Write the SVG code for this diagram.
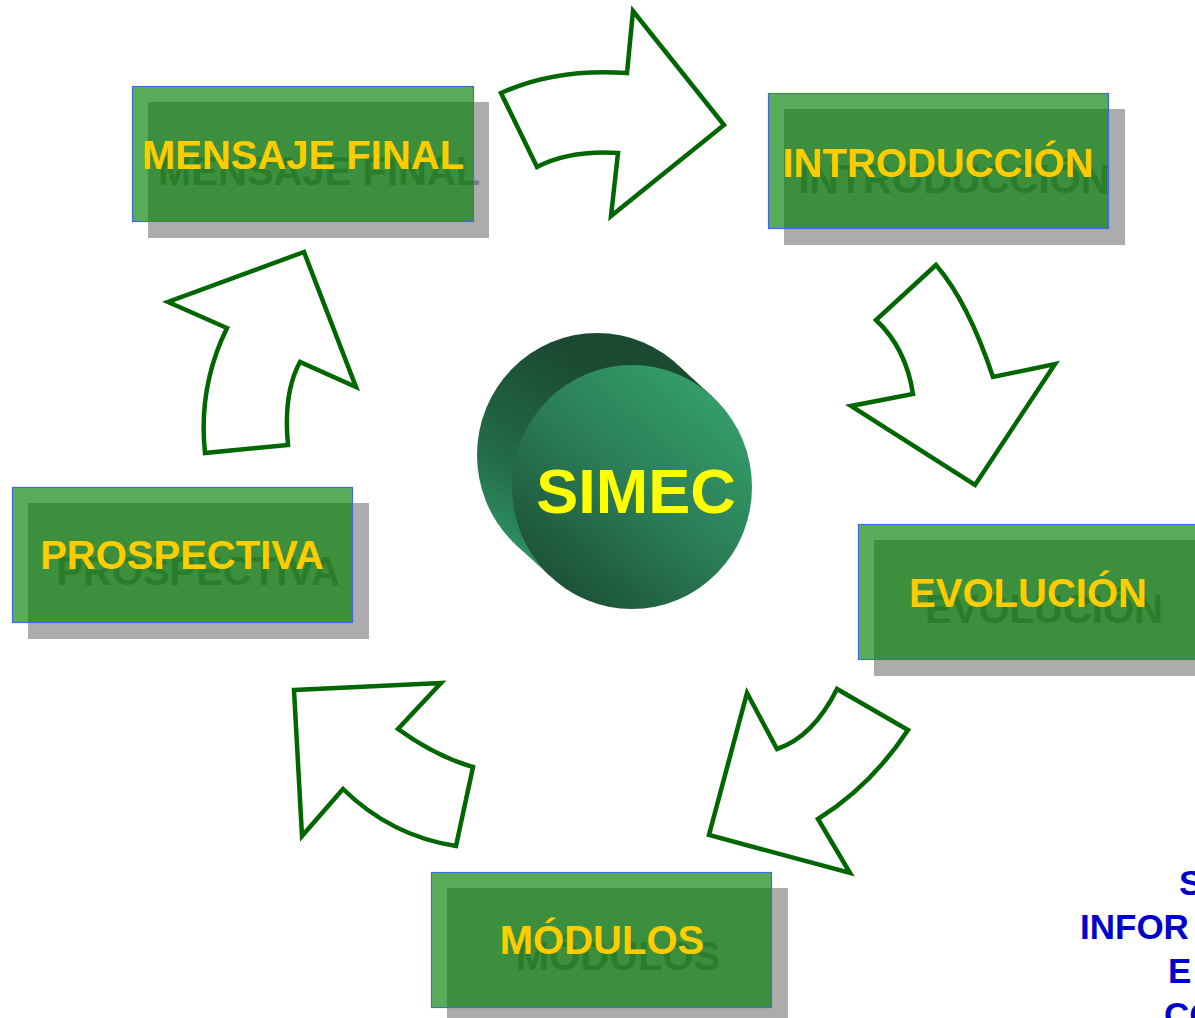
<svg xmlns="http://www.w3.org/2000/svg" width="1195" height="1018" viewBox="0 0 1195 1018">
  <defs>
    <linearGradient id="sideGrad" gradientUnits="userSpaceOnUse" x1="495" y1="575" x2="610" y2="380">
      <stop offset="0" stop-color="#34a06a"/>
      <stop offset="0.45" stop-color="#236b49"/>
      <stop offset="1" stop-color="#1b4a32"/>
    </linearGradient>
    <linearGradient id="faceGrad" gradientUnits="userSpaceOnUse" x1="725" y1="385" x2="545" y2="595">
      <stop offset="0" stop-color="#35a06b"/>
      <stop offset="0.5" stop-color="#2a7d56"/>
      <stop offset="1" stop-color="#1b4d34"/>
    </linearGradient>
    <style>
      .arrow { fill: #ffffff; stroke: #006600; stroke-width: 4.5; stroke-linejoin: miter; }
      .shadow { fill: #acacac; }
      .box { fill: #008000; fill-opacity: 0.65; stroke: #4169e1; stroke-width: 1.2; }
      .lbl { font-family: "Liberation Sans", Arial, sans-serif; font-weight: bold; font-size: 40px; text-anchor: middle; }
      .lbl-main { fill: #ffcc00; }
      .lbl-shadow { fill: #7a7a7a; }
      .simec { font-family: "Liberation Sans", Arial, sans-serif; font-weight: bold; font-size: 63px; fill: #ffff00; text-anchor: middle; }
      .blue { font-family: "Liberation Sans", Arial, sans-serif; font-weight: bold; font-size: 35px; fill: #0000cc; }
    </style>
  </defs>
  <rect width="1195" height="1018" fill="#ffffff"/>

  <g id="connectors">
    <path class="arrow" d="M 501,93 Q 556,68 627,73 L 633,11 L 724,125 L 611,216 L 618,153 Q 570,150 537,167 Z"/>
    <path class="arrow" d="M 936,265 L 876,320 Q 906,348 913,394 L 851,406 L 975,485 L 1055,364 L 993,377 Q 968,302 936,265 Z"/>
    <path class="arrow" d="M 747,693 L 777,749 Q 813,737 837,689 L 908,730 Q 871,786 818,819 L 850,873 L 709,835 Z"/>
    <path class="arrow" d="M 294,690 L 441,683 L 398,729 Q 435,756 473,767 L 456,846 Q 391,836 343,789 L 302,836 Z"/>
    <path class="arrow" d="M 304,252 L 168,302 L 227,328 Q 198,387 205,453 L 288,445 Q 283,393 300,362 L 356,387 Z"/>
  </g>

  <g id="node-simec">
    <g fill="url(#sideGrad)">
      <ellipse cx="597" cy="455" rx="120" ry="122"/>
      <polygon points="678.7,365.7 713.7,397.7 550.3,576.3 515.3,544.3"/>
    </g>
    <ellipse cx="632" cy="487" rx="120" ry="122" fill="url(#faceGrad)"/>
    <text class="simec" x="636" y="513">SIMEC</text>
  </g>

  <g id="node-mensaje-final">
    <rect class="shadow" x="148" y="102" width="341" height="136"/>
    <text class="lbl lbl-shadow" x="319" y="185">MENSAJE FINAL</text>
    <rect class="box" x="132.5" y="86.5" width="341" height="135"/>
    <text class="lbl lbl-main" x="303" y="169">MENSAJE FINAL</text>
  </g>

  <g id="node-introduccion">
    <rect class="shadow" x="784" y="109" width="341" height="136"/>
    <text class="lbl lbl-shadow" x="954" y="193">INTRODUCCIÓN</text>
    <rect class="box" x="768.5" y="93.5" width="340" height="135"/>
    <text class="lbl lbl-main" x="938" y="177">INTRODUCCIÓN</text>
  </g>

  <g id="node-evolucion">
    <rect class="shadow" x="874" y="540" width="341" height="136"/>
    <text class="lbl lbl-shadow" x="1044" y="623">EVOLUCIÓN</text>
    <rect class="box" x="858.5" y="524.5" width="341" height="135"/>
    <text class="lbl lbl-main" x="1028" y="607">EVOLUCIÓN</text>
  </g>

  <g id="node-modulos">
    <rect class="shadow" x="447" y="888" width="341" height="136"/>
    <text class="lbl lbl-shadow" x="618" y="970">MÓDULOS</text>
    <rect class="box" x="431.5" y="872.5" width="340" height="135"/>
    <text class="lbl lbl-main" x="602" y="954">MÓDULOS</text>
  </g>

  <g id="node-prospectiva">
    <rect class="shadow" x="28" y="503" width="341" height="136"/>
    <text class="lbl lbl-shadow" x="198" y="585">PROSPECTIVA</text>
    <rect class="box" x="12.5" y="487.5" width="340" height="135"/>
    <text class="lbl lbl-main" x="182" y="569">PROSPECTIVA</text>
  </g>

  <g id="caption">
    <text class="blue" x="1179" y="895">S</text>
    <text class="blue" x="1080" y="939">INFOR</text>
    <text class="blue" x="1168" y="983">E</text>
    <text class="blue" x="1164" y="1027">CO</text>
  </g>
</svg>
